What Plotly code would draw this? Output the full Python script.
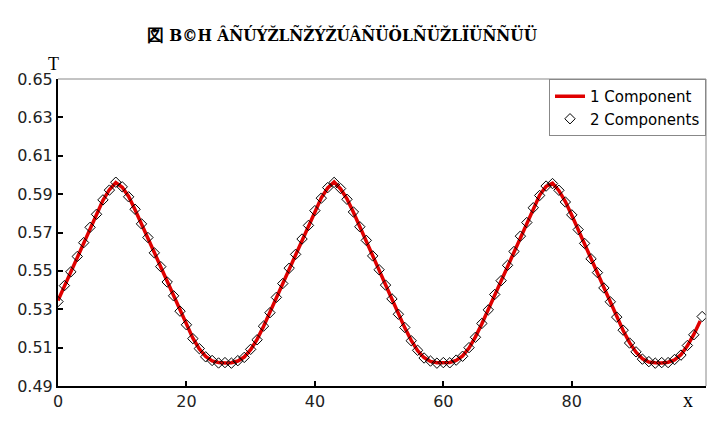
import plotly.graph_objects as go

x_vals = list(range(0, 101))
t_one = [
    0.5345, 0.5421, 0.5497, 0.5573, 0.5649, 0.5725, 0.5797, 0.5868, 0.5923, 0.5960,
    0.5936, 0.5888, 0.5819, 0.5747, 0.5672, 0.5596, 0.5520, 0.5444, 0.5368, 0.5292,
    0.5217, 0.5149, 0.5093, 0.5054, 0.5031, 0.5022, 0.5020, 0.5021, 0.5030, 0.5051,
    0.5089, 0.5143, 0.5210, 0.5284, 0.5360, 0.5436, 0.5512, 0.5588, 0.5664, 0.5739,
    0.5812, 0.5881, 0.5932, 0.5963, 0.5927, 0.5875, 0.5805, 0.5732, 0.5657, 0.5580,
    0.5504, 0.5428, 0.5352, 0.5276, 0.5203, 0.5138, 0.5084, 0.5048, 0.5028, 0.5021,
    0.5020, 0.5023, 0.5033, 0.5057, 0.5098, 0.5156, 0.5224, 0.5299, 0.5375, 0.5451,
    0.5527, 0.5603, 0.5679, 0.5754, 0.5827, 0.5895, 0.5940, 0.5957, 0.5918, 0.5861,
    0.5790, 0.5717, 0.5641, 0.5565, 0.5489, 0.5413, 0.5337, 0.5261, 0.5189, 0.5126,
    0.5076, 0.5042, 0.5025, 0.5021, 0.5020, 0.5024, 0.5036, 0.5063, 0.5109, 0.5169,
    0.5239,
]
t_two = [
    0.5340, 0.5423, 0.5495, 0.5575, 0.5647, 0.5727, 0.5795, 0.5870, 0.5921, 0.5962,
    0.5938, 0.5886, 0.5821, 0.5745, 0.5674, 0.5594, 0.5522, 0.5442, 0.5370, 0.5290,
    0.5219, 0.5147, 0.5095, 0.5052, 0.5033, 0.5020, 0.5022, 0.5019, 0.5032, 0.5049,
    0.5091, 0.5141, 0.5212, 0.5282, 0.5362, 0.5434, 0.5514, 0.5586, 0.5666, 0.5737,
    0.5814, 0.5879, 0.5934, 0.5961, 0.5929, 0.5873, 0.5807, 0.5730, 0.5659, 0.5578,
    0.5506, 0.5426, 0.5354, 0.5274, 0.5205, 0.5136, 0.5086, 0.5046, 0.5030, 0.5019,
    0.5022, 0.5021, 0.5035, 0.5055, 0.5100, 0.5154, 0.5226, 0.5297, 0.5377, 0.5449,
    0.5529, 0.5601, 0.5681, 0.5752, 0.5829, 0.5893, 0.5942, 0.5955, 0.5920, 0.5859,
    0.5792, 0.5715, 0.5643, 0.5563, 0.5491, 0.5411, 0.5339, 0.5259, 0.5191, 0.5124,
    0.5078, 0.5040, 0.5027, 0.5019, 0.5022, 0.5022, 0.5038, 0.5061, 0.5111, 0.5167,
    0.5262,
]
x_two = x_vals[:-1] + [100.3]
y_ticks = [0.49, 0.51, 0.53, 0.55, 0.57, 0.59, 0.61, 0.63, 0.65]
x_ticks = [0, 20, 40, 60, 80]
series_names = ["1 Component", "2 Components"]
title_text = "図 B©H ÂÑÚÝŽLÑŽÝŽÚÂÑÜÖLÑÜŽLÏÜÑÑÜÜ"

fig = go.Figure()
fig.add_trace(go.Scatter(
    x=x_vals, y=t_one, mode="lines", name=series_names[0],
    line=dict(color="#e00000", width=3.5),
))
fig.add_trace(go.Scatter(
    x=x_two, y=t_two, mode="markers", name=series_names[1],
    marker=dict(symbol="diamond-open", size=8, color="black", line=dict(width=1, color="black")),
))

L, R, T, B = 58, 13, 79, 43
W, H = 719, 429
pw = W - L - R
ph = H - T - B

fig.update_layout(
    width=W, height=H,
    margin=dict(l=L, r=R, t=T, b=B),
    paper_bgcolor="white", plot_bgcolor="white",
    showlegend=True,
    legend=dict(
        x=1, xanchor="right", y=1, yanchor="top",
        bordercolor="#888888", borderwidth=1, bgcolor="white",
        font=dict(family="DejaVu Sans", size=15, color="black"),
        tracegroupgap=0, itemwidth=30,
    ),
    font=dict(family="DejaVu Sans", color="black"),
)
fig.update_xaxes(
    range=[0, 100.9], tickvals=x_ticks, ticktext=[str(v) for v in x_ticks],
    ticks="inside", ticklen=5, tickwidth=1.5, tickcolor="black",
    showline=True, linecolor="black", linewidth=2, mirror=False,
    showgrid=False, zeroline=False,
    tickfont=dict(family="DejaVu Sans", size=16, color="#222222"),
)
fig.update_yaxes(
    range=[0.49, 0.65], tickvals=y_ticks, ticktext=[f"{v:.2f}" for v in y_ticks],
    ticks="inside", ticklen=5, tickwidth=1.5, tickcolor="black",
    showline=True, linecolor="black", linewidth=2, mirror=False,
    showgrid=False, zeroline=False,
    tickfont=dict(family="DejaVu Sans", size=16, color="#222222"),
)
fig.add_shape(type="line", xref="paper", yref="paper", x0=0, x1=1, y0=1, y1=1,
              line=dict(color="#888888", width=1))
fig.add_shape(type="line", xref="paper", yref="paper", x0=1, x1=1, y0=0, y1=1,
              line=dict(color="#888888", width=1))

fig.add_annotation(text="<b>" + title_text + "</b>", xref="paper", yref="paper",
                   x=(342 - L) / pw, y=1 + (T - 35) / ph,
                   xanchor="center", yanchor="middle", showarrow=False,
                   font=dict(family="DejaVu Serif Condensed, Liberation Serif", size=17, color="black"))
fig.add_annotation(text="T", xref="paper", yref="paper",
                   x=(53 - L) / pw, y=1 + (T - 64) / ph,
                   xanchor="center", yanchor="middle", showarrow=False,
                   font=dict(family="Liberation Serif", size=18, color="black"))
fig.add_annotation(text="x", xref="paper", yref="paper",
                   x=(688 - L) / pw, y=-(400 - (H - B)) / ph,
                   xanchor="center", yanchor="middle", showarrow=False,
                   font=dict(family="Liberation Serif", size=20, color="black"))

fig.write_html("out.html")
